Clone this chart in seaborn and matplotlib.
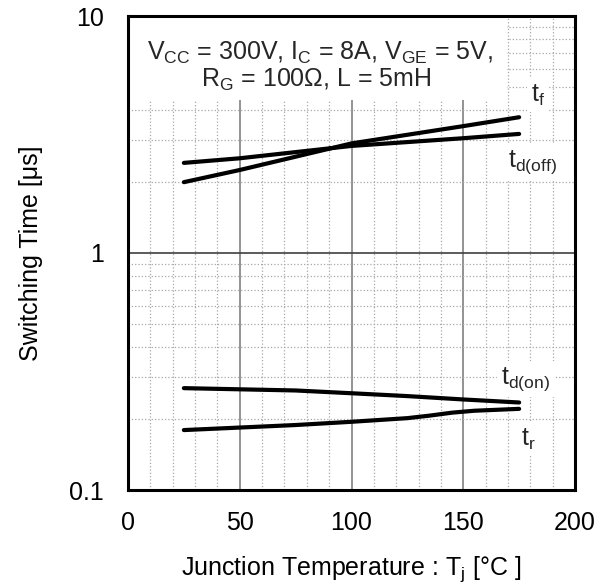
import matplotlib
matplotlib.use("Agg")
import matplotlib.pyplot as plt
import pandas as pd
import seaborn as sns
from matplotlib.ticker import FixedLocator, NullFormatter
from matplotlib.patches import Rectangle

# Switching times vs junction temperature (log scale, µs)
temp_tf = [25, 50, 100, 150, 175]
t_f = [1.99, 2.24, 2.90, 3.43, 3.74]

temp_tdoff = [25, 50, 100, 150, 175]
t_doff = [2.40, 2.51, 2.83, 3.05, 3.18]

temp_tdon = [25, 75, 100, 125, 150, 175]
t_don = [0.269, 0.263, 0.256, 0.249, 0.241, 0.234]

temp_tr = [25, 75, 100, 125, 135, 145, 155, 175]
t_r = [0.179, 0.188, 0.194, 0.201, 0.206, 0.212, 0.216, 0.220]

series_names = ["tf", "td_off", "td_on", "tr"]

x_ticks = [0, 50, 100, 150, 200]
y_ticks = [0.1, 1, 10]
y_tick_labels = ["0.1", "1", "10"]

frames = []
for name, xs, ys in zip(series_names,
                        [temp_tf, temp_tdoff, temp_tdon, temp_tr],
                        [t_f, t_doff, t_don, t_r]):
    frames.append(pd.DataFrame({"Tj": xs, "t": ys, "curve": name}))
data = pd.concat(frames, ignore_index=True)

sns.set_theme(style="white")
plt.rcParams["font.family"] = ["Liberation Sans", "DejaVu Sans"]
plt.rcParams["mathtext.default"] = "regular"

FS = 18
fig = plt.figure(figsize=(6.1, 5.88), dpi=100)
ax = fig.add_axes([128 / 610, 1 - 490 / 588, 447 / 610, 474 / 588])

sns.lineplot(data=data, x="Tj", y="t", hue="curve", units="curve",
             estimator=None, sort=True, legend=False,
             palette=["black"] * 4, linewidth=3, ax=ax, zorder=5)

ax.set_yscale("log")
ax.set_xlim(0, 200)
ax.set_ylim(0.1, 10)

ax.xaxis.set_major_locator(FixedLocator(x_ticks))
ax.xaxis.set_minor_locator(FixedLocator(list(range(10, 200, 10))))
ax.set_xticks(x_ticks, [str(v) for v in x_ticks])
ax.set_yticks(y_ticks, y_tick_labels)
ax.yaxis.set_minor_locator(FixedLocator([m * d for d in (0.1, 1) for m in range(2, 10)]))
ax.yaxis.set_minor_formatter(NullFormatter())
ax.xaxis.set_minor_formatter(NullFormatter())

ax.tick_params(which="both", length=0)
ax.tick_params(axis="x", pad=15, labelsize=FS, colors="black")
ax.tick_params(axis="y", pad=17.5, labelsize=FS, colors="black")

# grid: dotted minor lines, solid major lines
ax.grid(which="minor", axis="both", linestyle=":", color="#a8a8a8", linewidth=0.9, zorder=1)
ax.grid(which="major", axis="x", linestyle="-", color="#808080", linewidth=1.2, zorder=1)
ax.grid(which="major", axis="y", linestyle="-", color="#404040", linewidth=1.2, zorder=1)
ax.set_axisbelow(True)

for sp in ax.spines.values():
    sp.set_visible(True)
    sp.set_color("black")
    sp.set_linewidth(2.2)
    sp.set_zorder(10)

ax.set_xlabel("Junction Temperature : T$_j$ [°C ]", fontsize=FS, color="black")
ax.set_ylabel("Switching Time [μs]", fontsize=FS, color="black")
ax.xaxis.set_label_coords(0.5, -0.135)
ax.yaxis.set_label_coords(-0.19, 0.5)

# white panel behind the test-condition text
ax.add_patch(Rectangle((0, 0.823), 0.848, 0.177, transform=ax.transAxes,
                       facecolor="white", edgecolor="none", zorder=2))
ax.text(86, 6.98, "V$_{CC}$ = 300V, I$_{C}$ = 8A, V$_{GE}$ = 5V,", fontsize=FS,
        ha="center", va="center", zorder=6)
ax.text(84, 5.37, "R$_{G}$ = 100Ω, L = 5mH", fontsize=FS,
        ha="center", va="center", zorder=6)

box = dict(facecolor="white", edgecolor="none", pad=3)
ax.text(183.4, 4.64, "t$_{f}$", fontsize=FS, ha="center", va="center", bbox=box, zorder=4)
ax.text(181, 2.42, "t$_{d(off)}$", fontsize=FS, ha="center", va="center", bbox=box, zorder=4)
ax.text(178, 0.294, "t$_{d(on)}$", fontsize=FS, ha="center", va="center", bbox=box, zorder=4)
ax.text(179, 0.164, "t$_{r}$", fontsize=FS, ha="center", va="center", bbox=box, zorder=4)

fig.savefig("out.png", dpi=100, facecolor="white")
